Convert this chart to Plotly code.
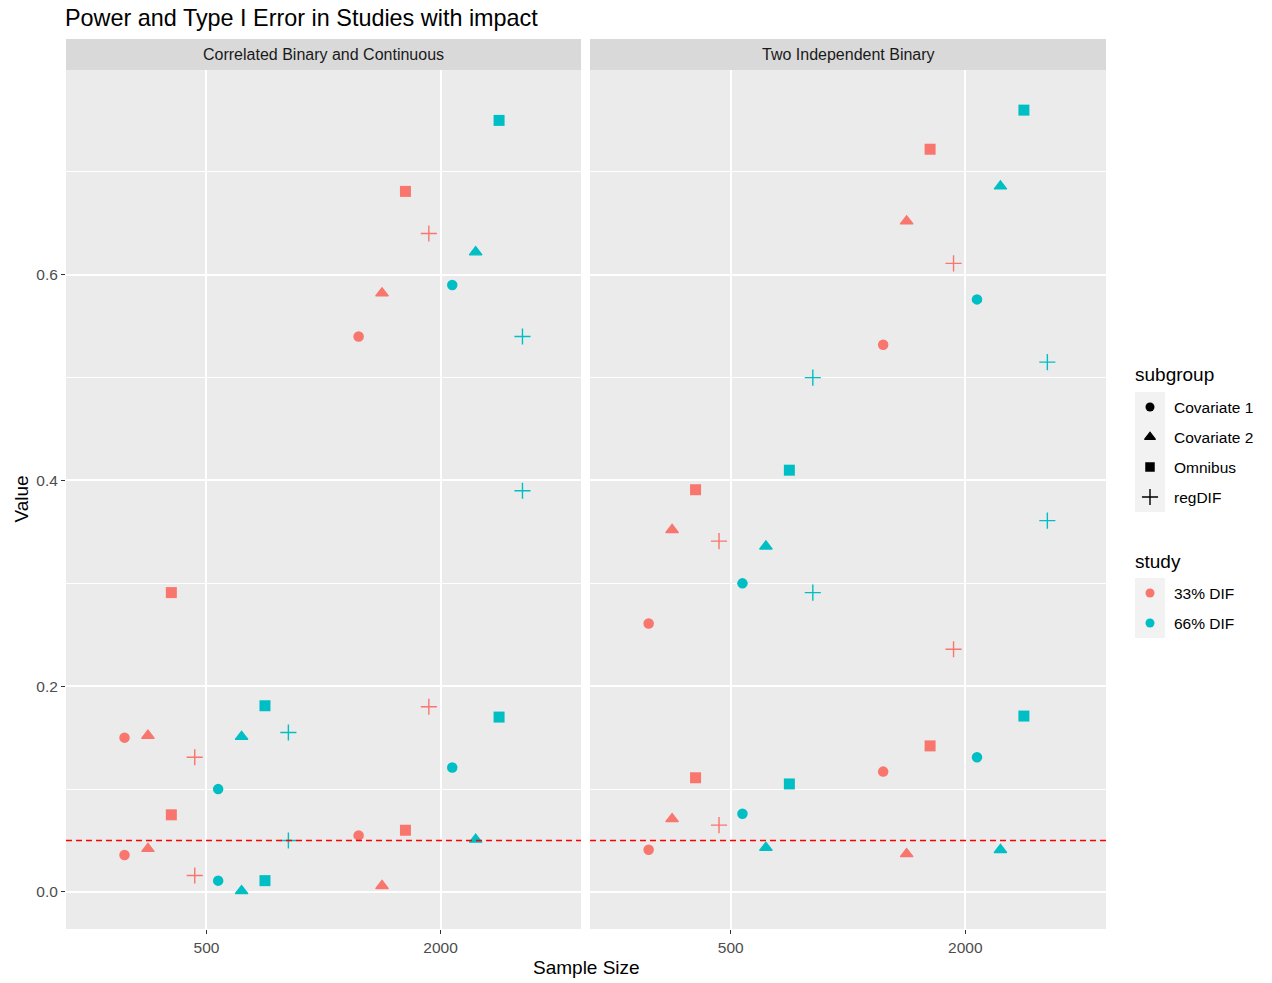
import plotly.graph_objects as go

# ---------------- data ----------------
panels = ["Correlated Binary and Continuous", "Two Independent Binary"]
sample_sizes = ["500", "2000"]
studies = ["33% DIF", "66% DIF"]
subgroups = ["Covariate 1", "Covariate 2", "Omnibus", "regDIF"]
y_tick_vals = [0.0, 0.2, 0.4, 0.6]
y_tick_text = ["0.0", "0.2", "0.4", "0.6"]
alpha_level = 0.05

# order within each list: Covariate 1, Covariate 2, Omnibus, regDIF
# Correlated Binary and Continuous
corr_33_power_500 = [0.150, 0.152, 0.291, 0.131]
corr_33_power_2000 = [0.540, 0.582, 0.681, 0.640]
corr_33_type1_500 = [0.036, 0.042, 0.075, 0.016]
corr_33_type1_2000 = [0.055, 0.006, 0.060, 0.180]
corr_66_power_500 = [0.100, 0.151, 0.181, 0.155]
corr_66_power_2000 = [0.590, 0.622, 0.750, 0.540]
corr_66_type1_500 = [0.011, 0.001, 0.011, 0.050]
corr_66_type1_2000 = [0.121, 0.051, 0.170, 0.390]
# Two Independent Binary
ind_33_power_500 = [0.261, 0.352, 0.391, 0.341]
ind_33_power_2000 = [0.532, 0.652, 0.722, 0.611]
ind_33_type1_500 = [0.041, 0.071, 0.111, 0.065]
ind_33_type1_2000 = [0.117, 0.037, 0.142, 0.236]
ind_66_power_500 = [0.300, 0.336, 0.410, 0.500]
ind_66_power_2000 = [0.576, 0.686, 0.760, 0.515]
ind_66_type1_500 = [0.076, 0.043, 0.105, 0.291]
ind_66_type1_2000 = [0.131, 0.041, 0.171, 0.361]

series = {
    (0, 0): (corr_33_power_500, corr_33_power_2000, corr_33_type1_500, corr_33_type1_2000),
    (0, 1): (corr_66_power_500, corr_66_power_2000, corr_66_type1_500, corr_66_type1_2000),
    (1, 0): (ind_33_power_500, ind_33_power_2000, ind_33_type1_500, ind_33_type1_2000),
    (1, 1): (ind_66_power_500, ind_66_power_2000, ind_66_type1_500, ind_66_type1_2000),
}

# ---------------- styling ----------------
FONT = "Liberation Sans, Arial, sans-serif"
study_colors = ["#F8766D", "#00BFC4"]
symbols = ["circle", "triangle-up", "square", "cross-thin-open"]
sizes = [10.5, 11, 11, 11.5]
line_w = [0, 1.2, 0, 1.4]

W, H = 1272, 983
ML, MR, MT, MB = 66, 0, 70, 54
PW = W - ML - MR
PH = H - MT - MB

def px_x(p):
    return (p - ML) / PW

panel_domains = [[px_x(66), px_x(581)], [px_x(590), px_x(1106)]]
legend_domain = [px_x(1120), 1.0]

fig = go.Figure()

n_groups = len(studies) * len(subgroups)
dodge = 0.8 / n_groups
for p in range(len(panels)):
    xa = "x" if p == 0 else "x2"
    ya = "y" if p == 0 else "y2"
    for s in range(len(studies)):
        p500, p2000, t500, t2000 = series[(p, s)]
        for g in range(len(subgroups)):
            k = s * len(subgroups) + g
            off = (k - (n_groups - 1) / 2) * dodge
            xs = [i + 1 + off for i in range(len(sample_sizes))]
            fig.add_trace(go.Scatter(
                x=xs + xs,
                y=[p500[g], p2000[g], t500[g], t2000[g]],
                mode="markers",
                xaxis=xa, yaxis=ya,
                name=f"{studies[s]} - {subgroups[g]}",
                showlegend=False,
                marker=dict(
                    symbol=symbols[g], size=sizes[g], color=study_colors[s],
                    line=dict(color=study_colors[s], width=line_w[g]),
                ),
            ))

axis_common = dict(
    showgrid=True, gridcolor="white", gridwidth=1.7, zeroline=False,
    ticks="outside", ticklen=4, tickwidth=1, tickcolor="#333333",
    tickfont=dict(family=FONT, size=15.5, color="#4D4D4D"), showline=False,
)
layout = dict(
    width=W, height=H,
    margin=dict(l=ML, r=MR, t=MT, b=MB),
    paper_bgcolor="white", plot_bgcolor="rgba(0,0,0,0)",
    font=dict(family=FONT, color="#1A1A1A"),
    showlegend=False,
    title=dict(text="Power and Type I Error in Studies with impact",
               font=dict(family=FONT, size=23.4, color="black"),
               x=65 / W, xanchor="left", xref="container",
               y=1 - 18 / H, yanchor="middle", yref="container"),
)
for p in range(len(panels)):
    sx = "" if p == 0 else "2"
    layout["xaxis" + sx] = dict(axis_common, domain=panel_domains[p], range=[0.4, 2.6],
                                tickvals=[1, 2], ticktext=sample_sizes, anchor="y" + sx)
    layout["yaxis" + sx] = dict(axis_common, domain=[0, 1], range=[-0.036, 0.799],
                                tickvals=y_tick_vals, ticktext=y_tick_text, anchor="x" + sx,
                                minor=dict(dtick=0.1, tick0=0, showgrid=True, gridcolor="white",
                                           gridwidth=1.0, ticks=""),
                                showticklabels=(p == 0),
                                ticks="outside" if p == 0 else "")
layout["xaxis3"] = dict(domain=legend_domain, range=[1120, 1272], visible=False, anchor="y3")
layout["yaxis3"] = dict(domain=[0, 1], range=[H - MB, MT], visible=False, anchor="x3")
fig.update_layout(**layout)

shapes = []
annotations = []
for p in range(len(panels)):
    sx = "" if p == 0 else "2"
    # panel background
    shapes.append(dict(type="rect", xref=f"x{sx} domain", yref=f"y{sx} domain",
                       x0=0, x1=1, y0=0, y1=1, fillcolor="#EBEBEB",
                       line=dict(width=0), layer="below"))
    # strip
    shapes.append(dict(type="rect", xref=f"x{sx} domain", yref="paper",
                       x0=0, x1=1, y0=1, y1=1 + 31 / PH, fillcolor="#D9D9D9",
                       line=dict(width=0), layer="below"))
    annotations.append(dict(text=panels[p], xref=f"x{sx} domain", yref="paper",
                            x=0.5, y=1 + 15.5 / PH, showarrow=False,
                            xanchor="center", yanchor="middle",
                            font=dict(family=FONT, size=16, color="#1A1A1A")))
    # reference line
    shapes.append(dict(type="line", xref=f"x{sx} domain", yref=f"y{sx}",
                       x0=0, x1=1, y0=alpha_level, y1=alpha_level,
                       line=dict(color="red", width=1.5, dash="6px,4px"), layer="above"))

# axis titles
annotations.append(dict(text="Sample Size", xref="paper", yref="paper",
                        x=px_x(586), y=-(968 - (H - MB)) / PH, showarrow=False,
                        xanchor="center", yanchor="middle",
                        font=dict(family=FONT, size=19, color="black")))
annotations.append(dict(text="Value", xref="paper", yref="paper",
                        x=px_x(21), y=0.5, showarrow=False, textangle=-90,
                        xanchor="center", yanchor="middle",
                        font=dict(family=FONT, size=19, color="black")))

# ---------------- legend (drawn on a hidden helper axis, pixel units) ----------------
KEY_X0, KEY_X1 = 1135, 1165
KEY_CX = (KEY_X0 + KEY_X1) / 2
ITEM_H = 30
LABEL_X = 1172
sub_title_y, sub_top = 374, 392
study_title_y, study_top = 561, 578

annotations.append(dict(text="subgroup", xref="x3", yref="y3", x=KEY_X0 - 2, y=sub_title_y,
                        showarrow=False, xanchor="left", yanchor="middle",
                        font=dict(family=FONT, size=19, color="black")))
annotations.append(dict(text="study", xref="x3", yref="y3", x=KEY_X0 - 2, y=study_title_y,
                        showarrow=False, xanchor="left", yanchor="middle",
                        font=dict(family=FONT, size=19, color="black")))
shapes.append(dict(type="rect", xref="x3", yref="y3", x0=KEY_X0, x1=KEY_X1,
                   y0=sub_top, y1=sub_top + ITEM_H * len(subgroups),
                   fillcolor="#F2F2F2", line=dict(width=0), layer="below"))
shapes.append(dict(type="rect", xref="x3", yref="y3", x0=KEY_X0, x1=KEY_X1,
                   y0=study_top, y1=study_top + ITEM_H * len(studies),
                   fillcolor="#F2F2F2", line=dict(width=0), layer="below"))

sub_y = [sub_top + ITEM_H * (i + 0.5) for i in range(len(subgroups))]
for i, name in enumerate(subgroups):
    fig.add_trace(go.Scatter(
        x=[KEY_CX], y=[sub_y[i]], mode="markers", xaxis="x3", yaxis="y3",
        showlegend=False, hoverinfo="skip", cliponaxis=False,
        marker=dict(symbol=symbols[i], size=sizes[i] - (0 if i == 3 else 1.5), color="black",
                    line=dict(color="black", width=line_w[i])),
    ))
    annotations.append(dict(text=name, xref="x3", yref="y3", x=LABEL_X, y=sub_y[i],
                            showarrow=False, xanchor="left", yanchor="middle",
                            font=dict(family=FONT, size=15.5, color="black")))
study_y = [study_top + ITEM_H * (i + 0.5) for i in range(len(studies))]
for i, name in enumerate(studies):
    fig.add_trace(go.Scatter(
        x=[KEY_CX], y=[study_y[i]], mode="markers", xaxis="x3", yaxis="y3",
        showlegend=False, hoverinfo="skip", cliponaxis=False,
        marker=dict(symbol="circle", size=9, color=study_colors[i]),
    ))
    annotations.append(dict(text=name, xref="x3", yref="y3", x=LABEL_X, y=study_y[i],
                            showarrow=False, xanchor="left", yanchor="middle",
                            font=dict(family=FONT, size=15.5, color="black")))

fig.update_layout(shapes=shapes, annotations=annotations)

fig.write_html("out.html", config={"displayModeBar": False},
               post_script="document.body.style.margin='0';document.body.style.overflow='hidden';")
